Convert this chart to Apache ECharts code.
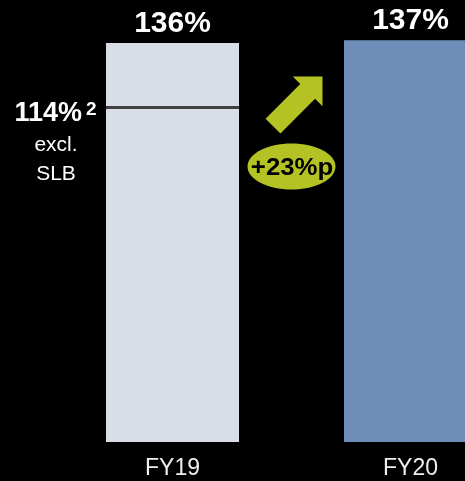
<!DOCTYPE html>
<html>
<head>
<meta charset="utf-8">
<script src="https://cdn.jsdelivr.net/npm/echarts@6/dist/echarts.min.js"></script>
<style>
  html, body { margin: 0; padding: 0; background: #000; }
  #chart { width: 465px; height: 481px; }
</style>
</head>
<body>
<div id="chart"></div>
<script>
// data
var categories = ['FY19', 'FY20'];
var values = [136, 137];
var barColors = ['#d9dde6', '#6e8db9'];
var exclSlb = [[0, 114]];          // FY19 excl. SLB
var exclNote = ['excl.', 'SLB'];
var changeLabel = '+23%p';

var barWidth = 133;
var green = '#b5c224';
var font = '"Liberation Sans", Arial, sans-serif';

var chart = echarts.init(document.getElementById('chart'));

chart.setOption({
  backgroundColor: '#000',
  animation: false,
  // the FY20 bar runs off the right edge, so the grid is wider than the page
  grid: { left: 53.5, width: 476, top: 2, bottom: 39, outerBoundsMode: 'none', containLabel: false },
  xAxis: {
    type: 'category',
    data: categories,
    axisLine: { show: false },
    axisTick: { show: false },
    axisLabel: { color: '#eeeeee', fontSize: 23, fontFamily: font, margin: 15 }
  },
  yAxis: { type: 'value', min: 0, max: 150, show: false, splitLine: { show: false } },
  series: [
    {
      type: 'bar',
      barWidth: barWidth,
      data: values.map(function (v, i) {
        return { value: v, itemStyle: { color: barColors[i] } };
      }),
      label: {
        show: true,
        position: 'top',
        distance: 4,
        formatter: '{c}%',
        color: '#ffffff',
        fontSize: 30,
        fontWeight: 'bold',
        fontFamily: font
      }
    },
    {
      // excl. SLB line + note, arrow and change bubble
      type: 'custom',
      data: exclSlb,
      z: 10,
      renderItem: function (params, api) {
        var pt = api.coord([api.value(0), api.value(1)]);
        var band = api.size([1, 0])[0];
        var x0 = pt[0] - barWidth / 2, x1 = pt[0] + barWidth / 2, y = pt[1];
        var mid = pt[0] + band / 2;

        // arrow, tip top right, pointing at 45 degrees
        var tx = mid + 31, ty = y - 31;
        var u = [0.7071, -0.7071], v = [0.7071, 0.7071];
        var pts = [[0, 0], [-21, 21], [-21, 10.5], [-70, 10.5], [-70, -10.5], [-21, -10.5], [-21, -21]].map(function (p) {
          return [tx + p[0] * u[0] + p[1] * v[0], ty + p[0] * u[1] + p[1] * v[1]];
        });

        return {
          type: 'group',
          children: [
            { type: 'line', shape: { x1: x0, y1: y, x2: x1, y2: y },
              style: { stroke: '#404040', lineWidth: 3 } },
            { type: 'text', x: x0 - 24, y: y + 6,
              style: { text: api.value(1) + '%', align: 'right', verticalAlign: 'middle',
                       fill: '#fff', font: 'bold 27px ' + font } },
            { type: 'text', x: x0 - 20, y: y - 7,
              style: { text: '2', align: 'left', verticalAlign: 'top',
                       fill: '#fff', font: 'bold 19px ' + font } },
            { type: 'text', x: x0 - 50, y: y + 38,
              style: { text: exclNote[0], align: 'center', verticalAlign: 'middle',
                       fill: '#fff', font: '21px ' + font } },
            { type: 'text', x: x0 - 50, y: y + 67,
              style: { text: exclNote[1], align: 'center', verticalAlign: 'middle',
                       fill: '#fff', font: '21px ' + font } },
            { type: 'polygon', shape: { points: pts }, style: { fill: green } },
            { type: 'ellipse', shape: { cx: mid, cy: y + 59, rx: 44, ry: 23 },
              style: { fill: green } },
            { type: 'text', x: mid + 0.5, y: y + 61, scaleX: 1.12,
              style: { text: changeLabel, align: 'center', verticalAlign: 'middle',
                       fill: '#000', font: 'bold 23px ' + font } }
          ]
        };
      }
    }
  ]
});
</script>
</body>
</html>
